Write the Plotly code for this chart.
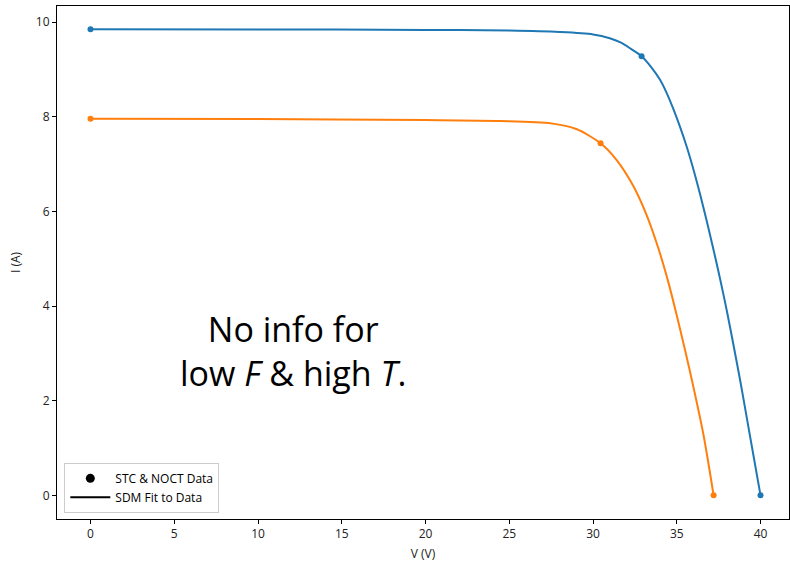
import plotly.graph_objects as go

# Data points (STC & NOCT)
blue_pts_v = [0.0, 32.9, 40.0]
blue_pts_i = [9.85, 9.28, 0.0]
orange_pts_v = [0.0, 30.45, 37.2]
orange_pts_i = [7.96, 7.44, 0.0]

# SDM fit curves
blue_fit_v = [0.0, 10.0, 20.0, 25.0, 28.0, 30.0, 31.0, 31.64, 32.24, 32.9, 33.45, 34.0, 34.4, 34.8, 35.2,
              35.6, 36.0, 36.4, 36.8, 37.2, 37.6, 38.0, 38.4, 38.8, 39.2, 39.6, 40.0]
blue_fit_i = [9.85, 9.845, 9.835, 9.82, 9.79, 9.74, 9.66, 9.57, 9.44, 9.28, 9.06, 8.78, 8.50, 8.16, 7.78,
              7.36, 6.88, 6.35, 5.78, 5.18, 4.55, 3.88, 3.15, 2.40, 1.60, 0.80, 0.0]
orange_fit_v = [0.0, 10.0, 20.0, 24.5, 27.5, 29.0, 30.45, 31.4, 32.4, 33.2, 33.9, 34.5, 35.0, 35.5,
                36.0, 36.6, 37.2]
orange_fit_i = [7.96, 7.95, 7.93, 7.91, 7.86, 7.74, 7.44, 7.09, 6.54, 5.92, 5.22, 4.50, 3.80, 3.06,
                2.28, 1.27, 0.0]

x_ticks = [0, 5, 10, 15, 20, 25, 30, 35, 40]
y_ticks = [0, 2, 4, 6, 8, 10]

BLUE = "#1f77b4"
ORANGE = "#ff7f0e"
FONT = "Open Sans"

fig = go.Figure()
for v, i, c in [(blue_fit_v, blue_fit_i, BLUE), (orange_fit_v, orange_fit_i, ORANGE)]:
    fig.add_trace(go.Scatter(x=v, y=i, mode="lines", line=dict(color=c, width=2, shape="spline", smoothing=0.8),
                             showlegend=False, hoverinfo="skip"))
for v, i, c in [(blue_pts_v, blue_pts_i, BLUE), (orange_pts_v, orange_pts_i, ORANGE)]:
    fig.add_trace(go.Scatter(x=v, y=i, mode="markers", marker=dict(color=c, size=6),
                             showlegend=False))

fig.add_trace(go.Scatter(x=[None], y=[None], mode="markers", marker=dict(color="black", size=9),
                         name="STC & NOCT Data"))
fig.add_trace(go.Scatter(x=[None], y=[None], mode="lines", line=dict(color="black", width=2),
                         name="SDM Fit to Data"))

fig.add_annotation(x=12.06, y=3.06, xref="x", yref="y",
                   text="No info for<br>low <i>F</i> &amp; high <i>T</i>.",
                   showarrow=False, font=dict(family=FONT, size=34, color="black"),
                   align="center")

axis_common = dict(showline=True, linecolor="black", linewidth=1, mirror=True,
                   ticks="outside", ticklen=4, tickcolor="black", showgrid=False, zeroline=False,
                   tickfont=dict(family=FONT, size=12, color="#222"))

fig.update_layout(
    width=790, height=564,
    margin=dict(l=57, r=1, t=6, b=45),
    paper_bgcolor="white", plot_bgcolor="white",
    font=dict(family=FONT, size=12, color="#222"),
    xaxis=dict(range=[-2.0, 41.7], tickvals=x_ticks,
               title=dict(text="V (V)", font=dict(family=FONT, size=12), standoff=8), **axis_common),
    yaxis=dict(range=[-0.5, 10.34], tickvals=y_ticks,
               title=dict(text="I (A)", font=dict(family=FONT, size=12), standoff=12), **axis_common),
    legend=dict(x=0.01, y=0.012, xanchor="left", yanchor="bottom",
                bgcolor="rgba(255,255,255,0.8)", bordercolor="#ccc", borderwidth=1,
                font=dict(family=FONT, size=12, color="black"), tracegroupgap=0, itemwidth=40),
)

fig.write_html("out.html")
